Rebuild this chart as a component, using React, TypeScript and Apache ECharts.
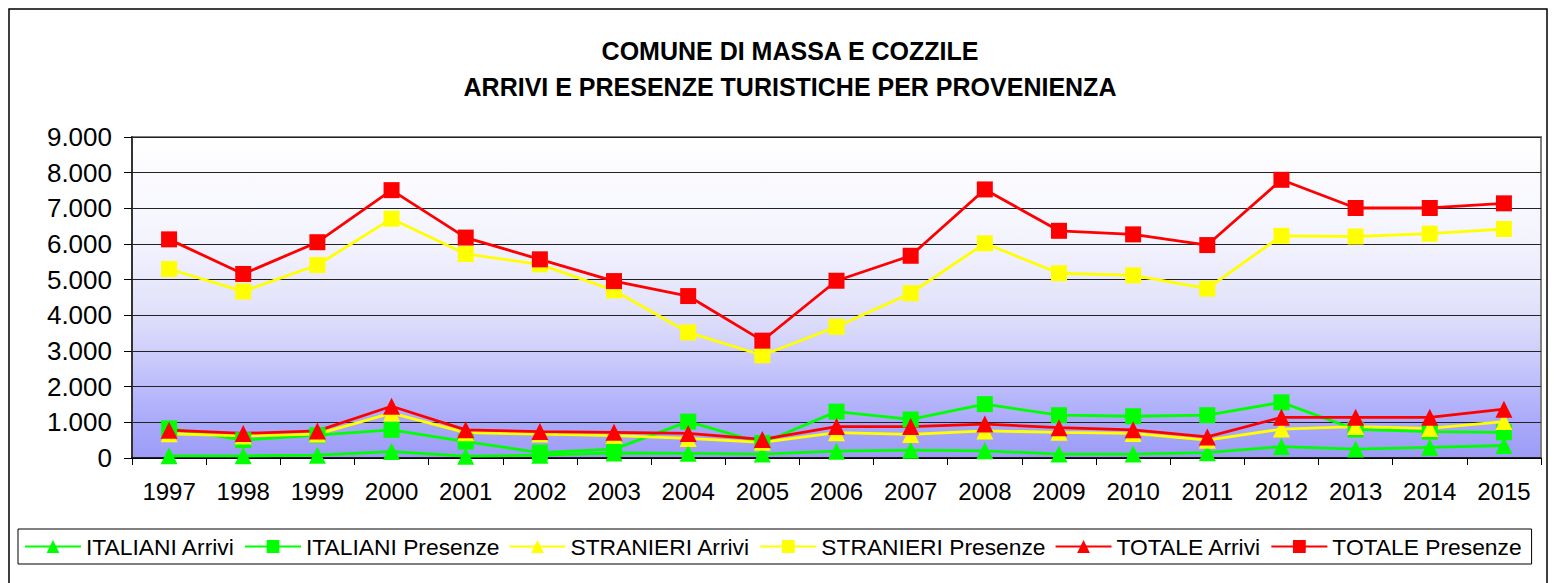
import React, { useEffect, useRef } from "react";
import * as echarts from "echarts";

const years = ["1997","1998","1999","2000","2001","2002","2003","2004","2005","2006","2007","2008","2009","2010","2011","2012","2013","2014","2015"];
const italianiArrivi = [60, 60, 80, 180, 50, 80, 140, 130, 110, 190, 220, 200, 110, 110, 150, 320, 250, 300, 350];
const italianiPresenze = [830, 500, 640, 790, 460, 150, 250, 1020, 420, 1300, 1080, 1510, 1200, 1170, 1200, 1560, 800, 740, 720];
const stranieriArrivi = [680, 620, 670, 1260, 710, 670, 630, 550, 440, 710, 660, 760, 720, 690, 500, 810, 880, 830, 1020];
const stranieriPresenze = [5300, 4670, 5410, 6710, 5720, 5430, 4700, 3520, 2880, 3680, 4620, 6020, 5180, 5120, 4750, 6230, 6210, 6290, 6420];
const totaleArrivi = [780, 690, 760, 1450, 790, 740, 720, 690, 520, 880, 880, 950, 850, 790, 590, 1140, 1140, 1140, 1370];
const totalePresenze = [6130, 5160, 6050, 7510, 6180, 5570, 4960, 4540, 3290, 4970, 5670, 7530, 6370, 6270, 5970, 7800, 7010, 7010, 7140];

const titleLines = ["COMUNE DI MASSA E COZZILE", "ARRIVI E PRESENZE TURISTICHE PER PROVENIENZA"];
const FONT = "Liberation Sans, Arial, sans-serif";

export default function App() {
  const ref = useRef<HTMLDivElement>(null);
  useEffect(() => {
    if (!ref.current) return;
    const chart = echarts.init(ref.current, null, { renderer: "svg" });
    const mk = (name: string, data: number[], color: string, symbol: string, size: number) => ({
      name,
      type: "line",
      data,
      symbol,
      symbolSize: size,
      showAllSymbol: true,
      lineStyle: { color, width: 2.8 },
      itemStyle: { color, borderWidth: 0 },
      emphasis: { disabled: true },
    });
    chart.setOption({
      animation: false,
      backgroundColor: "#ffffff",
      textStyle: { fontFamily: FONT },
      graphic: [
        {
          type: "rect",
          shape: { x: 9, y: 9, width: 1538, height: 600 },
          style: { fill: "none", stroke: "#000", lineWidth: 1.5 },
          z: -10,
          silent: true,
        },
        {
          type: "text",
          x: 790,
          y: 51,
          style: { text: titleLines[0], textAlign: "center", textVerticalAlign: "middle", font: `bold 25px ${FONT}`, fill: "#000" },
        },
        {
          type: "text",
          x: 790,
          y: 87,
          style: { text: titleLines[1], textAlign: "center", textVerticalAlign: "middle", font: `bold 25px ${FONT}`, fill: "#000" },
        },
      ],
      grid: {
        left: 132,
        top: 137,
        right: 14,
        bottom: 125,
        show: true,
        borderColor: "#808080",
        borderWidth: 2,
        backgroundColor: new echarts.graphic.LinearGradient(0, 0, 0, 1, [
          { offset: 0, color: "#ffffff" },
          { offset: 0.33, color: "#f3f3fe" },
          { offset: 0.55, color: "#e0e0fa" },
          { offset: 0.67, color: "#cecefb" },
          { offset: 0.78, color: "#bbbbfc" },
          { offset: 0.89, color: "#a9a9fa" },
          { offset: 1, color: "#9c9cf7" },
        ]),
      },
      legend: {
        left: 18,
        top: 529,
        orient: "horizontal",
        padding: [6, 10, 6, 6],
        itemGap: 9,
        itemWidth: 56,
        itemHeight: 16,
        borderColor: "#000",
        borderWidth: 1,
        textStyle: { fontSize: 22.8, color: "#000", fontFamily: FONT },
        data: ["ITALIANI Arrivi", "ITALIANI Presenze", "STRANIERI Arrivi", "STRANIERI Presenze", "TOTALE Arrivi", "TOTALE Presenze"],
      },
      xAxis: {
        type: "category",
        data: years,
        boundaryGap: true,
        axisLine: { lineStyle: { color: "#000", width: 1.5 } },
        axisTick: { show: true, length: 7, lineStyle: { color: "#000" } },
        axisLabel: { fontSize: 24, color: "#000", margin: 21, fontFamily: FONT },
      },
      yAxis: {
        type: "value",
        min: 0,
        max: 9000,
        interval: 1000,
        axisLine: { show: true, lineStyle: { color: "#333", width: 2 } },
        axisTick: { show: true, length: 8, lineStyle: { color: "#000" } },
        axisLabel: {
          fontSize: 26,
          color: "#000",
          margin: 20,
          fontFamily: FONT,
          formatter: (v: number) => (v >= 1000 ? Math.floor(v / 1000) + "." + String(v % 1000).padStart(3, "0") : String(v)),
        },
        splitLine: { show: true, lineStyle: { color: "#222", width: 1 } },
      },
      series: [
        mk("ITALIANI Arrivi", italianiArrivi, "#00ff00", "triangle", 17),
        mk("ITALIANI Presenze", italianiPresenze, "#00ff00", "rect", 16),
        mk("STRANIERI Arrivi", stranieriArrivi, "#ffff00", "triangle", 17),
        mk("STRANIERI Presenze", stranieriPresenze, "#ffff00", "rect", 16),
        mk("TOTALE Arrivi", totaleArrivi, "#ff0000", "triangle", 17),
        mk("TOTALE Presenze", totalePresenze, "#ff0000", "rect", 16),
      ],
    });
    return () => chart.dispose();
  }, []);
  return <div ref={ref} style={{ position: "absolute", left: 0, top: 0, width: 1555, height: 583 }} />;
}
